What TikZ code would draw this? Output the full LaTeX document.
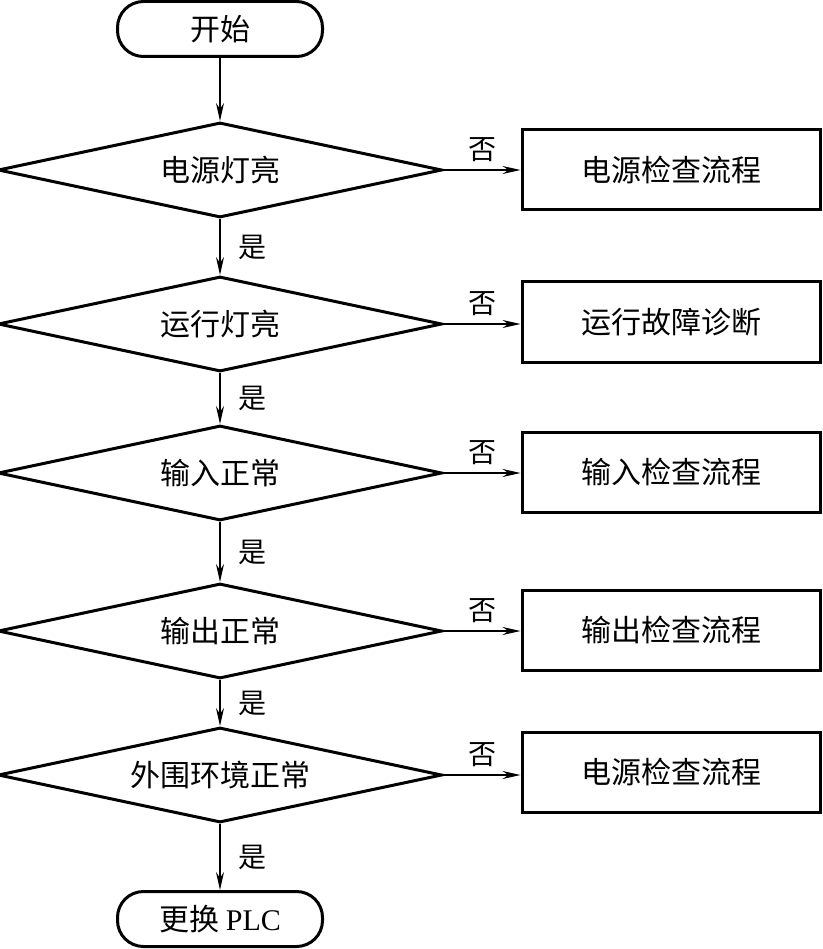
\documentclass[tikz,border=0pt]{standalone}
\usepackage{fontspec}
\newfontfamily\cjk{Noto Sans CJK SC}
\newfontfamily\latinserif{Liberation Serif}
\usetikzlibrary{arrows.meta, positioning, shapes.geometric}

\tikzset{
  base/.style={font=\cjk\fontsize{30}{32}\selectfont, line width=3pt, inner sep=0pt},
  terminal/.style={base, draw, rounded corners=26pt, minimum width=205pt, minimum height=55pt},
  decision/.style={base, draw, diamond, aspect=4.67, minimum width=444pt, minimum height=95pt},
  process/.style={base, draw, rectangle, minimum width=298pt, minimum height=80pt},
  flow/.style={line width=1.3pt, -{Stealth[length=18pt, width=8pt]}},
  tag/.style={font=\cjk\fontsize{28}{30}\selectfont, inner sep=0pt}
}

\begin{document}
\begin{tikzpicture}[x=1pt,y=-1pt]
  \useasboundingbox (0,0) rectangle (822,949);

  \node[terminal] (start) at (220,29) {开始};

  \node[decision] (d1) at (220,170) {电源灯亮};
  \node[decision] (d2) at (220,324) {运行灯亮};
  \node[decision] (d3) at (220,473) {输入正常};
  \node[decision] (d4) at (220,631) {输出正常};
  \node[decision] (d5) at (220,775) {外围环境正常};

  \node[process] (p1) at (671,170) {电源检查流程};
  \node[process] (p2) at (671,322) {运行故障诊断};
  \node[process] (p3) at (671,472) {输入检查流程};
  \node[process] (p4) at (671,630) {输出检查流程};
  \node[process] (p5) at (671,772) {电源检查流程};

  \node[terminal] (stop) at (220,919) {更换 {\latinserif PLC}};

  % main line
  \draw[flow] (start) -- (d1.north);
  \draw[flow] (d1.south) -- node[tag, right=18pt] {是} (d2.north);
  \draw[flow] (d2.south) -- node[tag, right=18pt] {是} (d3.north);
  \draw[flow] (d3.south) -- node[tag, right=18pt] {是} (d4.north);
  \draw[flow] (d4.south) -- node[tag, right=18pt] {是} (d5.north);
  \draw[flow] (d5.south) -- node[tag, right=18pt] {是} (stop.north);

  % branches
  \draw[flow] (d1.east) -- node[tag, above=8pt] {否} (d1.east -| p1.west);
  \draw[flow] (d2.east) -- node[tag, above=8pt] {否} (d2.east -| p2.west);
  \draw[flow] (d3.east) -- node[tag, above=8pt] {否} (d3.east -| p3.west);
  \draw[flow] (d4.east) -- node[tag, above=8pt] {否} (d4.east -| p4.west);
  \draw[flow] (d5.east) -- node[tag, above=8pt] {否} (d5.east -| p5.west);
\end{tikzpicture}
\end{document}
